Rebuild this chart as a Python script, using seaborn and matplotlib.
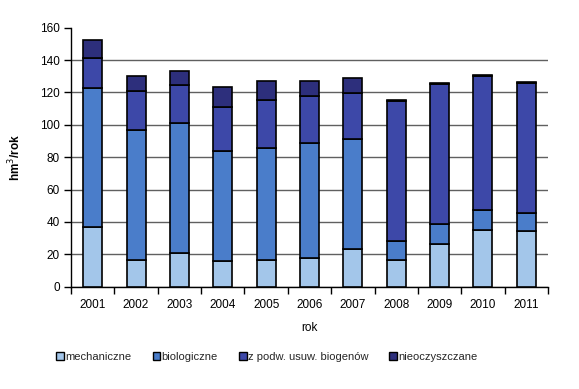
import numpy as np
import pandas as pd
import matplotlib
matplotlib.use("Agg")
import matplotlib.pyplot as plt
import seaborn as sns
from matplotlib.patches import Patch

years = ["2001", "2002", "2003", "2004", "2005", "2006", "2007", "2008", "2009", "2010", "2011"]
mechaniczne = [37, 16.5, 21, 16, 16.5, 17.7, 23.3, 16.3, 26.6, 35.2, 34.6]
biologiczne = [86, 80.5, 80, 67.8, 69.2, 70.8, 67.9, 11.9, 12.3, 12.4, 10.7]
z_podw = [18, 24, 23.6, 27.4, 29.4, 29.3, 28.6, 86.8, 86.1, 82.7, 80.7]
nieoczyszczane = [11.4, 9.3, 8.8, 12.1, 12.1, 9.0, 9.1, 0.5, 0.7, 0.5, 0.7]

series = ["mechaniczne", "biologiczne", "z podw. usuw. biogenów", "nieoczyszczane"]
values = [mechaniczne, biologiczne, z_podw, nieoczyszczane]
colors = ["#a3c6ea", "#4a7dca", "#3d48a8", "#2d2f7c"]
y_ticks = [0, 20, 40, 60, 80, 100, 120, 140, 160]

sns.set_theme(style="white")
plt.rcParams["font.family"] = ["Liberation Sans", "DejaVu Sans"]

fig = plt.figure(figsize=(5.79, 3.89), dpi=100)
ax = fig.add_axes([71 / 579, 1 - 286.7 / 389, (548 - 71) / 579, 259 / 389])

bottom = np.zeros(len(years))
for name, vals, col in zip(series, values, colors):
    df = pd.DataFrame({"rok": years, "v": vals})
    sns.barplot(data=df, x="rok", y="v", ax=ax, color=col, bottom=bottom,
                width=0.44, edgecolor="black", linewidth=1.2, saturation=1,
                zorder=3)
    bottom = bottom + np.array(vals)

ax.set_ylim(0, 160)
ax.set_xlim(-0.5, len(years) - 0.5)
ax.set_yticks(y_ticks)
ax.yaxis.grid(True, color="#606060", linewidth=1.0, zorder=0)
ax.set_axisbelow(True)
gl = ax.get_ygridlines()
gl[-1].set_visible(False)
for s in ["top", "right"]:
    ax.spines[s].set_visible(False)
ax.spines["left"].set_color("black")
ax.spines["bottom"].set_color("black")
ax.spines["left"].set_linewidth(1.0)
ax.spines["bottom"].set_linewidth(1.0)

ax.tick_params(axis="y", which="major", left=True, length=5, width=1, color="black",
               labelsize=8.5, pad=3, labelcolor="black")
ax.tick_params(axis="x", which="major", bottom=False, labelsize=8.5, pad=3, labelcolor="black")
ax.set_xticks(np.arange(-0.5, len(years), 1.0), minor=True)
ax.tick_params(axis="x", which="minor", bottom=True, length=5, width=1, color="black")

ax.set_xlabel("rok", fontsize=8.5, labelpad=8, color="black")
ax.set_ylabel("hm$^3$/rok", fontsize=8.5, fontweight="bold", labelpad=12, color="black")

handles = [Patch(facecolor=c, edgecolor="black", linewidth=1.0) for c in colors]
fig.legend(handles, series, loc="center", bbox_to_anchor=(267 / 579, 1 - 357 / 389), ncol=4,
           frameon=False, fontsize=8, handlelength=0.7, handleheight=0.7,
           handletextpad=0.1, columnspacing=1.9)

fig.savefig("out.png", dpi=100)
